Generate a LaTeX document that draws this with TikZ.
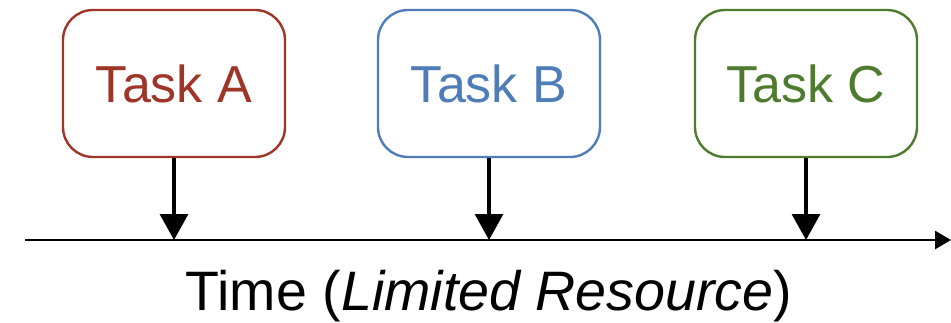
\documentclass[tikz,border=0pt]{standalone}
\usepackage{fontspec}
\setmainfont{Liberation Sans}
\usetikzlibrary{arrows.meta, positioning}
\definecolor{taskrot}{HTML}{9E3526}
\definecolor{taskblau}{HTML}{4F7DB8}
\definecolor{taskgruen}{HTML}{4F7B2F}

\begin{document}
\begin{tikzpicture}[x=0.5pt, y=0.5pt,
    taskbox/.style={draw, line width=1.2pt, rounded corners=15pt, fill=white,
      minimum width=111pt, minimum height=73.5pt, font=\fontsize{26}{30}\selectfont},
    pfeil/.style={-{Triangle[width=14pt,length=13pt]}, line width=1.6pt, black}]
      \useasboundingbox (0,0) rectangle (951,322);

      % --- Zeitachse ---
      \coordinate (t0) at (25,82);
      \coordinate (t1) at (951,82);
      \draw[-{Triangle[width=9pt,length=8pt]}, line width=1.4pt] (t0) -- (t1);

      % --- Aufgaben ---
      \node[taskbox, draw=taskrot, text=taskrot] (A) at (174,238.5) {Task A};
      \node[taskbox, draw=taskblau, text=taskblau] (B) at (489,238.5) {Task B};
      \node[taskbox, draw=taskgruen, text=taskgruen] (C) at (806,238.5) {Task C};

      % Pfeile
      \foreach \t in {A,B,C}
        \draw[pfeil] (\t.south) -- (\t.south |- t0);

      \node[anchor=base, font=\fontsize{27.8}{32}\selectfont] (zeit) at (489,12)
        {Time (\textit{Limited Resource})};
    \end{tikzpicture}
\end{document}
